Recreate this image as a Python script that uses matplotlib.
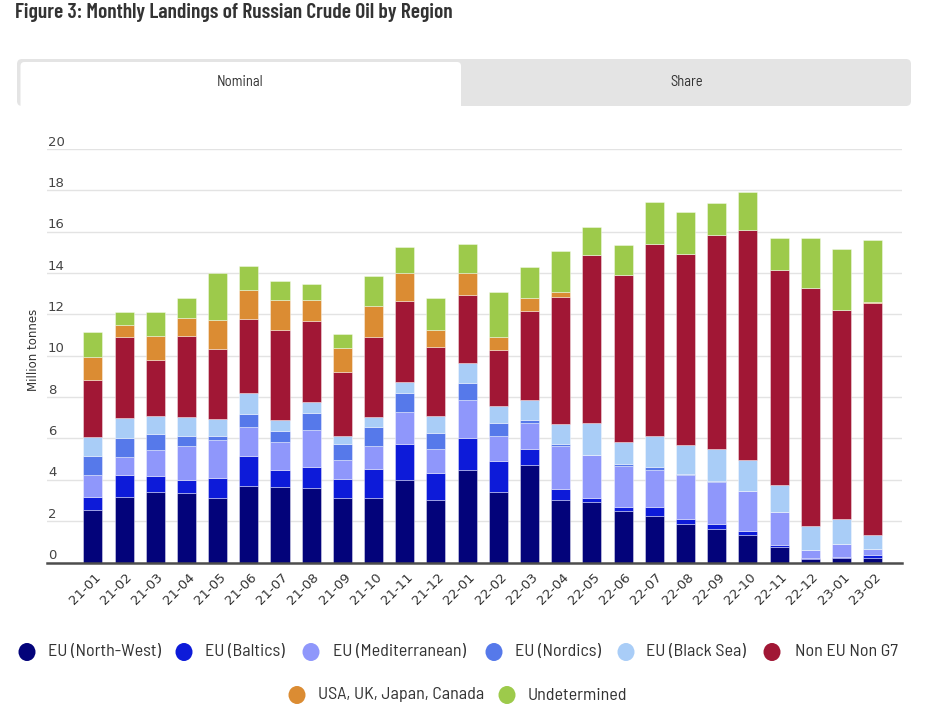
import matplotlib
matplotlib.use("Agg")
import matplotlib.pyplot as plt
from matplotlib.patches import FancyBboxPatch, Ellipse
from matplotlib.transforms import ScaledTranslation
import numpy as np

# ---------------- data ----------------
months = ['21-01', '21-02', '21-03', '21-04', '21-05', '21-06', '21-07', '21-08',
          '21-09', '21-10', '21-11', '21-12', '22-01', '22-02', '22-03', '22-04',
          '22-05', '22-06', '22-07', '22-08', '22-09', '22-10', '22-11', '22-12',
          '23-01', '23-02']

eu_north_west = [2.52, 3.16, 3.40, 3.35, 3.11, 3.68, 3.63, 3.60, 3.11, 3.11, 3.98, 3.02, 4.47,
                 3.40, 4.74, 3.00, 2.95, 2.48, 2.23, 1.84, 1.61, 1.31, 0.77, 0.18, 0.24, 0.24]
eu_baltics = [0.64, 1.05, 0.76, 0.63, 1.00, 1.45, 0.82, 1.01, 0.92, 1.39, 1.73, 1.30, 1.53,
              1.52, 0.73, 0.55, 0.15, 0.21, 0.45, 0.27, 0.26, 0.22, 0.07, 0.03, 0.03, 0.13]
eu_mediterranean = [1.08, 0.90, 1.29, 1.65, 1.83, 1.43, 1.40, 1.81, 0.94, 1.13, 1.58, 1.18, 1.87,
                    1.21, 1.30, 2.08, 2.08, 1.99, 1.79, 2.13, 2.03, 1.91, 1.61, 0.41, 0.63, 0.29]
eu_nordics = [0.89, 0.89, 0.78, 0.50, 0.19, 0.62, 0.50, 0.81, 0.74, 0.90, 0.92, 0.74, 0.81,
              0.63, 0.13, 0.08, 0.00, 0.09, 0.14, 0.03, 0.03, 0.00, 0.00, 0.00, 0.00, 0.00]
eu_black_sea = [0.93, 1.00, 0.88, 0.93, 0.81, 1.03, 0.52, 0.51, 0.42, 0.53, 0.53, 0.87, 0.98,
                0.82, 0.95, 0.98, 1.58, 1.05, 1.50, 1.41, 1.58, 1.52, 1.29, 1.15, 1.21, 0.69]
non_eu_non_g7 = [2.75, 3.89, 2.68, 3.89, 3.38, 3.55, 4.37, 3.92, 3.08, 3.83, 3.89, 3.31, 3.26,
                 2.68, 4.30, 6.16, 8.11, 8.07, 9.31, 9.24, 10.33, 11.10, 10.41, 11.50, 10.10, 11.21]
usa_uk_japan_canada = [1.11, 0.59, 1.16, 0.86, 1.39, 1.40, 1.45, 1.03, 1.16, 1.51, 1.35, 0.82, 1.06,
                       0.63, 0.64, 0.23, 0.00, 0.00, 0.00, 0.00, 0.00, 0.00, 0.00, 0.00, 0.00, 0.05]
undetermined = [1.21, 0.63, 1.16, 1.00, 2.27, 1.16, 0.92, 0.76, 0.69, 1.45, 1.28, 1.57, 1.44,
                2.21, 1.52, 1.97, 1.34, 1.45, 2.02, 2.03, 1.56, 1.85, 1.54, 2.43, 2.97, 2.97]

series_names = ['EU (North-West)', 'EU (Baltics)', 'EU (Mediterranean)', 'EU (Nordics)',
                'EU (Black Sea)', 'Non EU Non G7', 'USA, UK, Japan, Canada', 'Undetermined']
series_values = [eu_north_west, eu_baltics, eu_mediterranean, eu_nordics,
                 eu_black_sea, non_eu_non_g7, usa_uk_japan_canada, undetermined]
series_colors = ['#03037a', '#0d1bd9', '#8f97fb', '#5679ea', '#a9cdf7',
                 '#a11735', '#db8c33', '#9dca4b']
y_ticks = [0, 2, 4, 6, 8, 10, 12, 14, 16, 18, 20]

# ---------------- figure ----------------
W, H = 930, 726
DPI = 100
fig = plt.figure(figsize=(W / DPI, H / DPI), dpi=DPI)
fig.patch.set_facecolor('white')

ov = fig.add_axes([0, 0, 1, 1], zorder=0)
ov.set_xlim(0, W)
ov.set_ylim(H, 0)
ov.axis('off')

title_font = ['Barlow Condensed', 'DejaVu Sans']
ui_font = ['Barlow Semi Condensed', 'DejaVu Sans']

ov.text(15, 13, 'Figure 3: Monthly Landings of Russian Crude Oil by Region',
        fontsize=15.5, fontweight='semibold', family=title_font, color='#333333',
        ha='left', va='center')

# tabs
ov.add_patch(FancyBboxPatch((17, 59), 894, 47, boxstyle='round,pad=0,rounding_size=5',
                            facecolor='#e4e4e4', edgecolor='none'))
ov.add_patch(FancyBboxPatch((20.5, 62), 440.5, 50, boxstyle='round,pad=0,rounding_size=4',
                            facecolor='white', edgecolor='none'))
ov.add_patch(plt.Rectangle((0, 106), W, 10, facecolor='white', edgecolor='none'))
ov.text(240, 82, 'Nominal', fontsize=10.5, family=ui_font, color='#333333', ha='center', va='center')
ov.text(687, 82, 'Share', fontsize=10.5, family=ui_font, color='#333333', ha='center', va='center')

# main axes
left, right = 47, 902
top, bottom = 149, 562.5
ax = fig.add_axes([left / W, 1 - bottom / H, (right - left) / W, (bottom - top) / H], zorder=2)
ax.set_facecolor('none')

x = np.arange(len(months))
base = np.zeros(len(months))
for name, vals, col in zip(series_names, series_values, series_colors):
    v = np.array(vals)
    ax.bar(x, v, width=0.61, bottom=base, color=col, edgecolor=(1, 1, 1, 0.45),
           linewidth=0.6, label=name, zorder=3)
    base += v

ax.set_xlim(-1.47, 25.94)
ax.set_ylim(0, 20)
ax.set_yticks(y_ticks)
ax.yaxis.grid(True, color='#e3e3e3', linewidth=1.0, zorder=0)
ax.set_axisbelow(True)
ax.tick_params(axis='y', length=0, labelleft=False)
for s in ['left', 'right', 'top']:
    ax.spines[s].set_visible(False)
ax.spines['bottom'].set_color('#4d4d4d')
ax.spines['bottom'].set_linewidth(1.8)
ax.spines['bottom'].set_zorder(5)

ytr = ax.get_yaxis_transform() + ScaledTranslation(1 / DPI, 7 / DPI, fig.dpi_scale_trans)
for t in y_ticks:
    ax.text(0, t, str(t), transform=ytr, fontsize=9.5, color='#444444',
            ha='left', va='center', family='DejaVu Sans')

ax.set_xticks(x)
ax.set_xticklabels(months, rotation=45, ha='right', va='center', rotation_mode='anchor',
                   fontsize=9.5, color='#333333', family='DejaVu Sans')
ax.tick_params(axis='x', length=0, pad=9)
for lab in ax.get_xticklabels():
    lab.set_transform(lab.get_transform() + ScaledTranslation(6 / DPI, 0, fig.dpi_scale_trans))

fig.text(33 / W, 1 - 350 / H, 'Million tonnes', rotation=90, fontsize=8.5, color='#333333',
         ha='center', va='center', family='DejaVu Sans')

# legend (two centered rows)
legend_pos = [(27, 48, 652), (184, 205, 652), (311, 333, 652), (494, 515, 652),
              (626, 646, 652), (772, 795, 652), (297, 318, 695), (507, 528, 695)]
for (cx, tx, cy), name, col in zip(legend_pos, series_names, series_colors):
    ov.add_patch(Ellipse((cx, cy), 17, 18, facecolor=col, edgecolor='none'))
    ov.text(tx, cy, name, fontsize=13, family=ui_font, color='#333333', ha='left', va='center')

fig.savefig('out.png', dpi=DPI, facecolor='white')
